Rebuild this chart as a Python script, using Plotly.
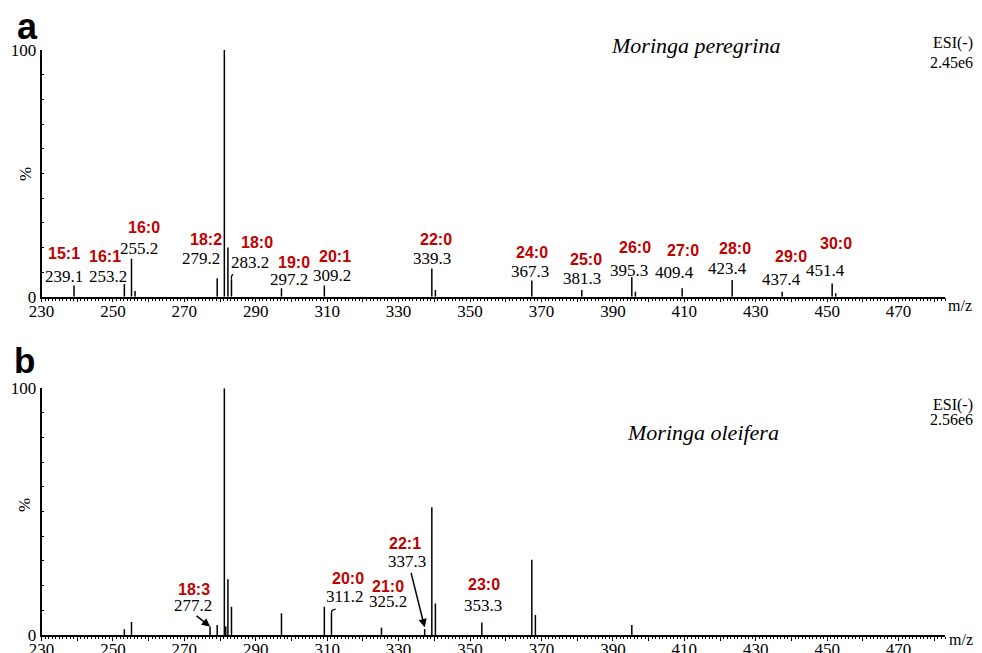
import plotly.graph_objects as go

# ---------------- data ----------------
# Panel a: Moringa peregrina, ESI(-)
mz_a = [239.1, 253.2, 255.2, 256.2, 279.2, 281.2, 282.2, 283.2, 297.2, 309.2,
        339.3, 340.3, 367.3, 381.3, 395.3, 396.3, 409.4, 423.4, 437.4, 451.4, 452.4]
int_a = [4.5, 5.1, 15.4, 2.3, 7.5, 100, 19.9, 7.0, 3.4, 4.5,
         11.4, 2.7, 6.6, 2.7, 7.9, 2.0, 3.4, 6.8, 2.0, 5.4, 1.4]
fa_a = ["15:1", "16:1", "16:0", "18:2", "18:1", "18:0", "19:0", "20:1", "22:0",
        "24:0", "25:0", "26:0", "27:0", "28:0", "29:0", "30:0"]
lab_mz_a = [239.1, 253.2, 255.2, 279.2, 281.2, 283.2, 297.2, 309.2, 339.3,
            367.3, 381.3, 395.3, 409.4, 423.4, 437.4, 451.4]

# Panel b: Moringa oleifera, ESI(-)
mz_b = [253.2, 255.2, 277.2, 279.2, 281.2, 281.6, 282.2, 283.2, 297.2, 309.2,
        311.2, 325.2, 337.3, 339.3, 340.3, 353.3, 367.3, 368.3, 395.3]
int_b = [2.3, 5.3, 3.4, 4.1, 100, 3.4, 22.6, 11.5, 8.8, 11.5,
         9.0, 3.0, 2.4, 51.8, 12.8, 5.1, 30.5, 8.1, 4.1]
fa_b = ["18:3", "20:0", "21:0", "22:1", "23:0"]
lab_mz_b = [277.2, 311.2, 325.2, 337.3, 353.3]

x_ticks = list(range(230, 481, 10))
x_ticklabels = [str(v) if (v - 230) % 20 == 0 else "" for v in x_ticks]
y_ticks = list(range(0, 101, 10))
y_ticklabels = ["0"] + [""] * 9 + ["100"]

# ---------------- layout (positions only) ----------------
PAGE_W, PAGE_H = 982, 653
OFF = 8                       # default body margin of the html page
W, H = PAGE_W - OFF, PAGE_H - OFF
XR = [230, 483]
red_pos_a = [(236.25, 17.6), (247.7, 16.1), (258.65, 28.05), (276.1, 23.2), (282.4, 109.7),
             (290.4, 21.8), (300.8, 13.9), (312.2, 16.3), (340.4, 23.3), (367.45, 17.8),
             (382.5, 14.9), (396.1, 20.0), (409.7, 18.9), (424.2, 19.6), (440.0, 16.2),
             (452.5, 21.4)]
val_pos_a = [(236.4, 8.3), (248.6, 8.3), (257.4, 19.6), (274.7, 15.4), (282.2, 103.0),
             (288.3, 14.0), (299.4, 6.8), (311.4, 8.4), (339.3, 15.6), (366.75, 10.1),
             (381.4, 7.5), (394.4, 10.8), (407.3, 9.7), (422.2, 11.5), (437.1, 6.9),
             (449.6, 10.8)]
red_pos_b = [(272.8, 18.5), (315.8, 22.8), (327.0, 19.8), (331.7, 37.2), (353.8, 20.3)]
val_pos_b = [(272.5, 12.0), (315.1, 15.7), (327.1, 13.5), (332.4, 29.7), (353.5, 11.8)]

RED = "#C00000"
SERIF = "Liberation Serif, Times New Roman, serif"
SANS = "Liberation Sans, Arial, sans-serif"


def px(x):
    return (x - OFF) / W


def py(y):
    return 1 - (y - OFF) / H


def sticks(mz, inten):
    xs, ys = [], []
    for m, v in zip(mz, inten):
        xs += [m, m, None]
        ys += [0, v, None]
    return xs, ys


fig = go.Figure()

xa, ya = sticks(mz_a, int_a)
fig.add_trace(go.Scatter(x=xa, y=ya, mode="lines", line=dict(color="black", width=1.5),
                         xaxis="x", yaxis="y", hoverinfo="skip", showlegend=False))
xb, yb = sticks(mz_b, int_b)
fig.add_trace(go.Scatter(x=xb, y=yb, mode="lines", line=dict(color="black", width=1.5),
                         xaxis="x2", yaxis="y2", hoverinfo="skip", showlegend=False))

# small hooked leader tops on 283.2 (a) and 311.2 (b)
h_a = int_a[mz_a.index(283.2)]
fig.add_trace(go.Scatter(x=[283.2, 283.25, 283.65], y=[h_a, h_a + 1.4, h_a + 2.1],
                         mode="lines", line=dict(color="black", width=1.3, shape="spline"),
                         xaxis="x", yaxis="y", hoverinfo="skip", showlegend=False))
h_b = int_b[mz_b.index(311.2)]
fig.add_trace(go.Scatter(x=[311.2, 311.45, 312.4], y=[h_b, h_b + 1.0, h_b + 1.5],
                         mode="lines", line=dict(color="black", width=1.3, shape="spline"),
                         xaxis="x2", yaxis="y2", hoverinfo="skip", showlegend=False))

ann = []
for name, m, rp, vp in zip(fa_a, lab_mz_a, red_pos_a, val_pos_a):
    ann.append(dict(x=rp[0], y=rp[1], xref="x", yref="y", text=f"<b>{name}</b>",
                    showarrow=False, font=dict(family=SANS, size=16, color=RED),
                    xanchor="center", yanchor="middle"))
    ann.append(dict(x=vp[0], y=vp[1], xref="x", yref="y", text=f"{m:.1f}",
                    showarrow=False, font=dict(family=SERIF, size=17, color="black"),
                    xanchor="center", yanchor="middle"))
for name, m, rp, vp in zip(fa_b, lab_mz_b, red_pos_b, val_pos_b):
    ann.append(dict(x=rp[0], y=rp[1], xref="x2", yref="y2", text=f"<b>{name}</b>",
                    showarrow=False, font=dict(family=SANS, size=16, color=RED),
                    xanchor="center", yanchor="middle"))
    ann.append(dict(x=vp[0], y=vp[1], xref="x2", yref="y2", text=f"{m:.1f}",
                    showarrow=False, font=dict(family=SERIF, size=17, color="black"),
                    xanchor="center", yanchor="middle"))

# arrows in panel b
for m, axp, ayp, extra in [(277.2, -15, -12, 0.0), (337.3, -14, -56, 0.7)]:
    ann.append(dict(x=m, y=int_b[mz_b.index(m)] + extra, xref="x2", yref="y2", text="",
                    showarrow=True, arrowhead=2, arrowsize=1.1, arrowwidth=1.5,
                    arrowcolor="black", ax=axp, ay=ayp, standoff=0))


def ptxt(x, y, text, size, family=SERIF, xanchor="center", angle=0):
    return dict(x=px(x), y=py(y), xref="paper", yref="paper", text=text, showarrow=False,
                textangle=angle, font=dict(family=family, size=size, color="black"),
                xanchor=xanchor, yanchor="middle")


ann += [
    ptxt(27, 27, "<b>a</b>", 36, SANS),
    ptxt(24, 361, "<b>b</b>", 35, SANS),
    ptxt(695.5, 45, "<i>Moringa peregrina</i>", 22),
    ptxt(703, 432, "<i>Moringa oleifera</i>", 22),
    ptxt(975, 43.3, "ESI(-)", 16, xanchor="right"),
    ptxt(975, 62.2, "2.45e6", 16, xanchor="right"),
    ptxt(975, 404.8, "ESI(-)", 16, xanchor="right"),
    ptxt(975, 419, "2.56e6", 16, xanchor="right"),
    ptxt(946, 305, "m/z", 16, xanchor="left"),
    ptxt(947, 639, "m/z", 16, xanchor="left"),
    ptxt(26, 174, "%", 17, angle=-90),
    ptxt(25, 505, "%", 17, angle=-90),
]

xdom = [px(41.5), px(945)]
common_x = dict(range=XR, showgrid=False, zeroline=False, showline=True, linecolor="black",
                linewidth=1.5, ticks="outside", ticklen=4, tickwidth=1, tickcolor="black",
                tickmode="array", tickvals=x_ticks, ticktext=x_ticklabels,
                tickfont=dict(family=SERIF, size=17, color="black"),
                ticklabelstandoff=-6,
                minor=dict(tickmode="linear", tick0=230, dtick=1, ticklen=2.5,
                           tickcolor="black", tickwidth=1, ticks="outside", showgrid=False),
                domain=xdom, fixedrange=True, automargin=False)
common_y = dict(range=[0, 100], showgrid=False, zeroline=False, showline=True,
                linecolor="black", linewidth=1.5, ticks="inside", ticklen=3, tickwidth=1,
                tickcolor="black", tickmode="array", tickvals=y_ticks, ticktext=y_ticklabels,
                tickfont=dict(family=SERIF, size=17, color="black"), fixedrange=True,
                automargin=False)

fig.update_layout(
    template="none",
    width=W, height=H, margin=dict(l=0, r=0, t=0, b=0, pad=0),
    paper_bgcolor="white", plot_bgcolor="white", showlegend=False,
    xaxis=dict(anchor="y", **common_x),
    yaxis=dict(anchor="x", domain=[py(296.7), py(50)], **common_y),
    xaxis2=dict(anchor="y2", **common_x),
    yaxis2=dict(anchor="x2", domain=[py(635), py(388.3)], **common_y),
    annotations=ann,
)

fig.write_html("out.html")
